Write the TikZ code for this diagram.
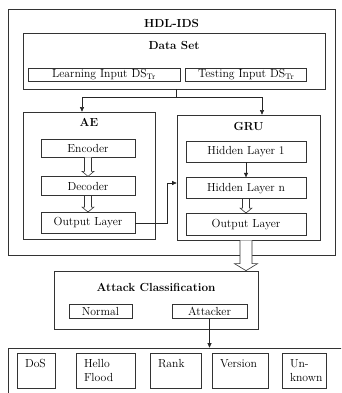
\documentclass[tikz,border=0pt]{standalone}
\usetikzlibrary{positioning, arrows.meta, calc}

\begin{document}
\fontsize{11.7}{13.5}\selectfont
\begin{tikzpicture}[x=1pt, y=-1pt,
  grpb/.style={draw=black!80, line width=0.7pt, inner sep=0pt},
  layb/.style={draw=black!80, line width=0.7pt, inner sep=1pt, minimum height=19},
  atkb/.style={draw=black!80, line width=0.7pt, inner xsep=8pt, inner ysep=3pt,
               text width=#1, align=left, minimum height=35},
  ttl/.style={anchor=north, inner sep=0pt, font=\fontsize{11.7}{13.5}\selectfont\bfseries},
  arr/.style={-{Triangle[length=4.5pt,width=4pt]}, line width=0.6pt, draw=black!85},
  hollow/.style n args={3}{draw=black!80, line width=0.6pt, fill=white,
    to path={let \p1=(\tikztostart), \p2=(\tikztotarget) in
      (\x1-#1,\y1) -- (\x1-#1,\y2+#3) -- (\x1-#2,\y2+#3) -- (\x1,\y2)
      -- (\x1+#2,\y2+#3) -- (\x1+#1,\y2+#3) -- (\x1+#1,\y1)}},
]
\useasboundingbox (0,0) rectangle (341,393);
\clip (0,0) rectangle (341,393);

% Outer frame
\node[grpb, minimum width=327, minimum height=246,
      label={[ttl, yshift=-10pt]north:HDL-IDS}] (hdl) at (171.5,132) {};

% Data set
\node[grpb, minimum width=302, minimum height=56,
      label={[ttl, yshift=-8pt]north:Data Set}] (ds) at (174,61) {};
\node[layb, minimum width=152, minimum height=13] (learn) at (104,75)
  {Learning Input DS$_{\mathrm{Tr}}$};
\node[layb, minimum width=121, minimum height=13, right=5pt of learn] (test)
  {Testing Input DS$_{\mathrm{Tr}}$};

% AE
\node[grpb, minimum width=132, minimum height=127,
      label={[ttl, yshift=-6pt]north:AE}] (ae) at (89,175.5) {};
\node[layb, minimum width=94, minimum height=18] (enc) at (88,148) {Encoder};
\node[layb, minimum width=94, below=19pt of enc] (dec) {Decoder};
\node[layb, minimum width=94, minimum height=21, below=16pt of dec] (aeout) {Output Layer};

% GRU
\node[grpb, minimum width=143, minimum height=125,
      label={[ttl, yshift=-7pt]north:GRU}] (gru) at (248.5,177.5) {};
\node[layb, minimum width=120, minimum height=21] (hid1) at (246,151.5) {Hidden Layer 1};
\node[layb, minimum width=120, minimum height=21, below=15pt of hid1] (hidn) {Hidden Layer n};
\node[layb, minimum width=120, minimum height=22, below=14pt of hidn] (gruout) {Output Layer};

% Attack classification
\node[grpb, minimum width=204, minimum height=58,
      label={[ttl, yshift=-12pt]north:Attack Classification}] (atk) at (156,300) {};
\node[layb, minimum width=63, minimum height=14] (normal) at (100.5,311) {Normal};
\node[layb, minimum width=75, minimum height=14] (attacker) at (209.5,311) {Attacker};

% Attack types (frame runs past the page)
\node[grpb, minimum width=352, minimum height=72] (types) at (184,384) {};
\node[atkb=22pt] (dos) at (36,370.5) {DoS\\\mbox{}};
\node[atkb=43pt] (hello) at (105.5,370.5) {Hello\\Flood};
\node[atkb=35pt] (rank) at (175.5,370.5) {Rank\\\mbox{}};
\node[atkb=40pt] (version) at (240,370.5) {Version\\\mbox{}};
\node[atkb=28pt] (unknown) at (304,370.5) {Un-\\known};

% Arrows
\draw[arr] ([xshift=2pt]ds.south) -- +(0,8) -| ([xshift=-7pt]ae.north);
\draw[arr] ([xshift=2pt]ds.south) -- +(0,8) -| ([xshift=13.5pt]gru.north);
\draw[hollow={3.5pt}{6pt}{5pt}] (enc.south) to (dec.north);
\draw[hollow={3.5pt}{6pt}{5pt}] (dec.south) to (aeout.north);
\draw[arr] (hid1) -- (hidn);
\draw[hollow={3.5pt}{6pt}{5pt}] (hidn.south) to (gruout.north);
\draw[arr] (aeout.east) -- +(32,0) |- ([yshift=-5.5pt]gru.west);
\draw[hollow={6pt}{11.5pt}{7pt}] ([xshift=-2.5pt]gru.south) to ([xshift=-2.5pt]gru.south |- atk.north);
\draw[arr] (attacker.south) -- (attacker.south |- types.north);
\end{tikzpicture}
\end{document}
